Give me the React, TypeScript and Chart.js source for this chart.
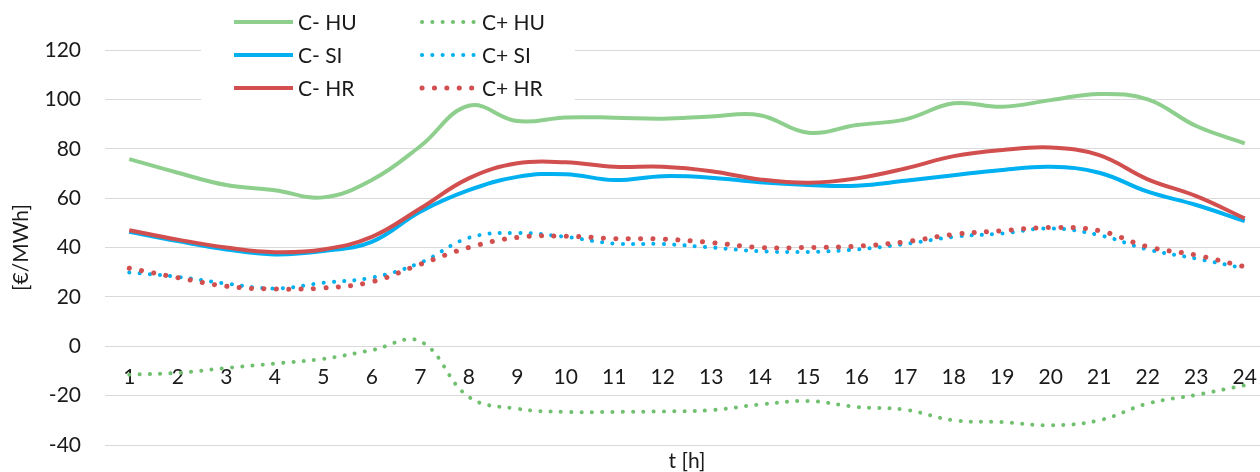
import React, { useEffect, useRef } from 'react';
import { Chart, registerables } from 'chart.js';

Chart.register(...registerables);

const hours = ['1', '2', '3', '4', '5', '6', '7', '8', '9', '10', '11', '12', '13', '14', '15', '16', '17', '18', '19', '20', '21', '22', '23', '24'];

const cMinusHU = [75.8, 70.3, 65.3, 63.2, 60.3, 67.3, 81.0, 97.4, 91.2, 92.7, 92.6, 92.2, 93.1, 93.6, 86.5, 89.6, 91.9, 98.4, 97.0, 99.7, 102.2, 100.0, 89.2, 82.2];
const cPlusHU = [-11.5, -10.8, -8.8, -7.0, -5.1, -1.6, 2.0, -20.5, -25.3, -26.6, -26.6, -26.4, -25.9, -23.6, -22.2, -24.6, -25.7, -30.0, -30.7, -32.0, -30.0, -23.2, -19.7, -15.8];
const cMinusSI = [46.4, 42.6, 39.2, 37.2, 38.6, 42.3, 54.5, 63.2, 68.6, 69.7, 67.3, 68.9, 68.3, 66.4, 65.3, 65.0, 67.0, 69.3, 71.4, 72.7, 70.3, 62.6, 57.2, 50.7];
const cPlusSI = [29.9, 28.1, 25.4, 23.4, 25.7, 27.8, 33.8, 43.9, 45.9, 44.3, 41.6, 41.4, 40.0, 38.5, 38.2, 39.2, 41.4, 44.3, 45.7, 47.7, 45.0, 39.2, 35.5, 31.5];
const cMinusHR = [47.0, 43.2, 40.0, 38.1, 39.2, 44.3, 55.8, 68.0, 74.1, 74.5, 72.7, 72.7, 70.9, 67.6, 66.2, 68.0, 72.0, 77.0, 79.5, 80.5, 77.4, 67.6, 60.8, 51.8];
const cPlusHR = [31.6, 27.8, 24.3, 23.2, 23.6, 26.1, 33.2, 40.0, 44.1, 44.6, 43.6, 43.4, 42.0, 40.0, 40.0, 40.5, 42.3, 45.3, 46.8, 48.1, 46.8, 40.3, 36.9, 32.2];

const seriesLabels = ['C- HU', 'C+ HU', 'C- SI', 'C+ SI', 'C- HR', 'C+ HR'];
const yTitle = '[€/MWh]';
const xTitle = 't [h]';

const GREEN = '#8ECF8E';
const GREEN_DOT = '#70C070';
const BLUE = '#00B0F0';
const RED = '#D24F4F';
const TEXT = '#1a1a1a';
const FONT = { family: 'Lato', size: 21 };

const legendPlugin = {
  id: 'gridLegend',
  beforeDatasetsDraw(chart: any) {
    const ctx = chart.ctx as CanvasRenderingContext2D;
    ctx.save();
    ctx.fillStyle = '#ffffff';
    ctx.fillRect(201, 2, 374, 99);
    chart.data.datasets.forEach((ds: any, i: number) => {
      const col = i % 2;
      const row = Math.floor(i / 2);
      const y = 22 + row * 33;
      const x0 = col === 0 ? 234 : 422;
      const x1 = col === 0 ? 293 : 476;
      ctx.strokeStyle = ds.borderColor;
      ctx.lineWidth = ds.borderWidth;
      const dashed = Array.isArray(ds.borderDash) && ds.borderDash.length > 0;
      ctx.lineCap = dashed ? 'round' : 'butt';
      ctx.setLineDash(dashed ? ds.borderDash : []);
      ctx.beginPath();
      ctx.moveTo(x0, y);
      ctx.lineTo(x1, y);
      ctx.stroke();
      ctx.setLineDash([]);
      ctx.fillStyle = TEXT;
      ctx.font = `${FONT.size}px ${FONT.family}`;
      ctx.textBaseline = 'middle';
      ctx.textAlign = 'left';
      ctx.fillText(ds.label, col === 0 ? 298 : 482, y + 1);
    });
    ctx.restore();
  },
};

export default function App() {
  const ref = useRef<HTMLCanvasElement>(null);

  useEffect(() => {
    if (!ref.current) return;
    const solid = (label: string, data: number[], color: string, order: number) => ({
      label,
      data,
      borderColor: color,
      backgroundColor: color,
      borderWidth: 4,
      pointRadius: 0,
      tension: 0.4,
      fill: false,
      order,
    });
    const dotted = (label: string, data: number[], color: string, width: number, gap: number, order: number) => ({
      label,
      data,
      borderColor: color,
      backgroundColor: color,
      borderWidth: width,
      borderDash: [0.1, gap],
      borderCapStyle: 'round',
      pointRadius: 0,
      tension: 0.4,
      fill: false,
      order,
    });

    const chart = new Chart(ref.current, {
      type: 'line',
      data: {
        labels: hours,
        datasets: [
          solid(seriesLabels[0], cMinusHU, GREEN, 5),
          dotted(seriesLabels[1], cPlusHU, GREEN_DOT, 4, 10.2, 4),
          solid(seriesLabels[2], cMinusSI, BLUE, 3),
          dotted(seriesLabels[3], cPlusSI, BLUE, 4, 10.2, 2),
          solid(seriesLabels[4], cMinusHR, RED, 1),
          dotted(seriesLabels[5], cPlusHR, RED, 5, 12.3, 0),
        ] as any,
      },
      options: {
        responsive: false,
        animation: false,
        layout: { padding: { top: 50, left: 0, right: 0, bottom: 0 } },
        plugins: {
          legend: { display: false },
          tooltip: { enabled: false },
        },
        scales: {
          x: {
            type: 'category',
            offset: true,
            position: { y: 0 } as any,
            grid: { display: false, drawTicks: false },
            border: { display: false },
            ticks: { padding: 18, autoSkip: false, maxRotation: 0, minRotation: 0, font: FONT, color: TEXT },
            afterFit: (s: any) => {
              s.height = 0;
              s.paddingLeft = 0;
              s.paddingRight = 0;
            },
          },
          x2: {
            type: 'category',
            axis: 'x',
            position: 'bottom',
            offset: true,
            grid: { display: false, drawTicks: false },
            border: { display: false },
            ticks: { display: false },
            title: {
              display: true,
              text: xTitle,
              font: { ...FONT, lineHeight: 1 },
              color: TEXT,
              padding: { top: 6, bottom: 0 },
            },
            afterFit: (s: any) => {
              s.paddingLeft = 0;
              s.paddingRight = 0;
            },
          } as any,
          y: {
            min: -40,
            max: 120,
            ticks: { stepSize: 20, padding: 24, font: FONT, color: TEXT },
            grid: { color: '#d9d9d9', lineWidth: 1, drawTicks: false },
            border: { display: false },
            title: {
              display: true,
              text: yTitle,
              font: FONT,
              color: TEXT,
              padding: { top: 9, bottom: 0 },
            },
            afterFit: (s: any) => {
              s.width = 105;
              s.paddingTop = 12;
              s.paddingBottom = 12;
            },
          },
        },
      } as any,
      plugins: [legendPlugin],
    });
    return () => chart.destroy();
  }, []);

  return (
    <div
      style={{
        position: 'fixed',
        left: 0,
        top: 0,
        width: 1260,
        height: 472,
        overflow: 'hidden',
        background: '#ffffff',
      }}
    >
      <canvas ref={ref} width={1269} height={472} style={{ display: 'block' }} />
    </div>
  );
}
